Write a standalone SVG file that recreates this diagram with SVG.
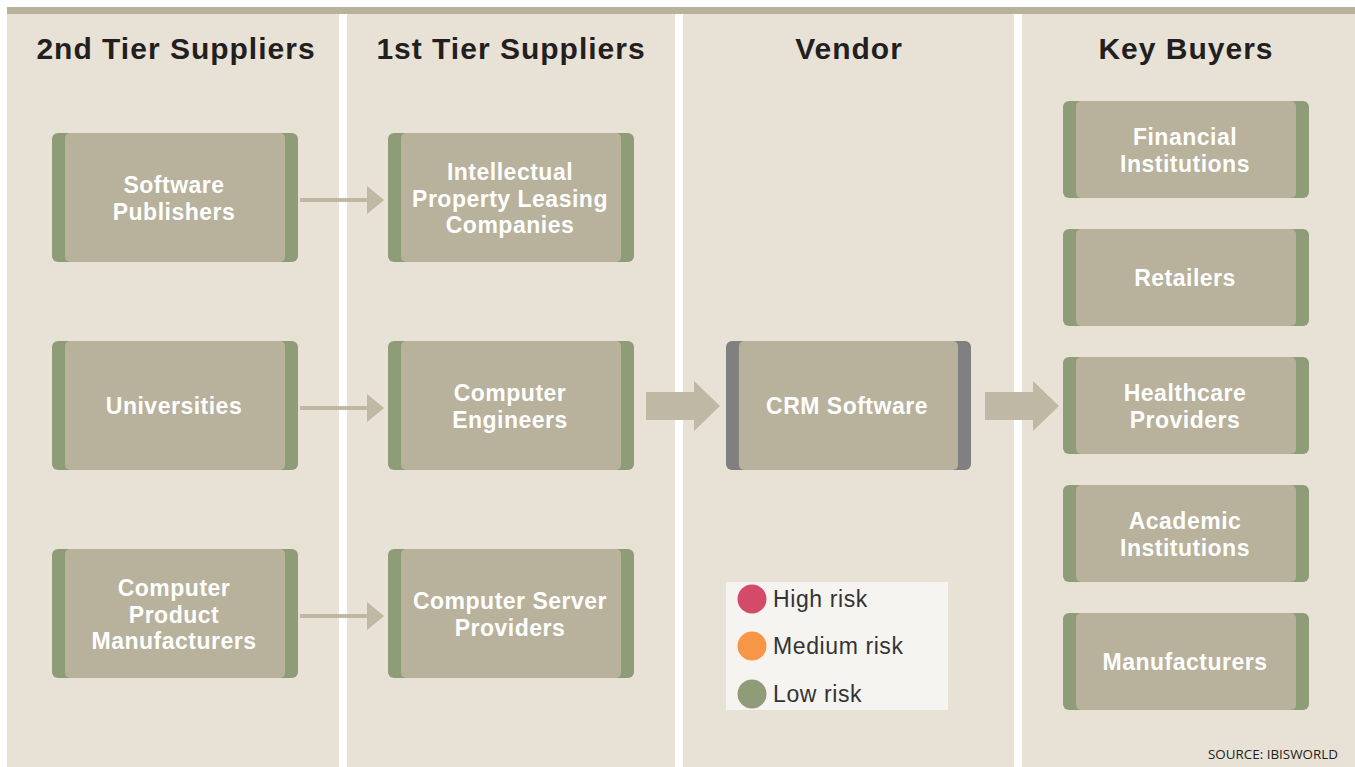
<svg xmlns="http://www.w3.org/2000/svg" width="1355" height="767" viewBox="0 0 1355 767">
<style>
.hdr{font-family:"Liberation Sans",Arial,sans-serif;font-weight:bold;font-size:30px;letter-spacing:1px;fill:#231f20;text-anchor:middle}
.nt{font-family:"Liberation Sans",Arial,sans-serif;font-weight:bold;font-size:23px;letter-spacing:0.5px;fill:#ffffff;text-anchor:middle}
.lg{font-family:"Liberation Sans",Arial,sans-serif;font-size:23px;letter-spacing:0.6px;fill:#333333}
.src{font-family:"Open Sans","Liberation Sans",sans-serif;font-size:13.4px;fill:#231f20}
.g{fill:#8e9c78}
.gr{fill:#808080}
.in{fill:#b8b19b}
.arr{fill:#bfb8a4}
</style>
<rect x="0" y="0" width="1355" height="767" fill="#ffffff"/>
<rect x="7" y="14" width="1348" height="753" fill="#e8e1d5"/>
<rect x="7" y="7" width="1348" height="7" fill="#b8b19c"/>
<rect x="339" y="14" width="8" height="753" fill="#ffffff"/>
<rect x="675" y="14" width="8" height="753" fill="#ffffff"/>
<rect x="1014" y="14" width="8" height="753" fill="#ffffff"/>
<text class="hdr" x="176" y="59">2nd Tier Suppliers</text>
<text class="hdr" x="511" y="59">1st Tier Suppliers</text>
<text class="hdr" x="849" y="59">Vendor</text>
<text class="hdr" x="1186" y="59">Key Buyers</text>
<g id="connectors">
<path class="arr" d="M300,198h67v-12l17,14l-17,14v-12h-67z"/>
<path class="arr" d="M300,406h67v-12l17,14l-17,14v-12h-67z"/>
<path class="arr" d="M300,614h67v-12l17,14l-17,14v-12h-67z"/>
<path class="arr" d="M646,392h48v-11l26,25l-26,25v-11h-48z"/>
<path class="arr" d="M985,392h48v-11l26,25l-26,25v-11h-48z"/>
</g>
<g id="n-software-publishers">
<rect class="g" x="52" y="133" width="246" height="129" rx="6"/><rect class="in" x="65" y="133" width="220" height="129" rx="5"/>
<text class="nt" x="174" y="193">Software</text><text class="nt" x="174" y="220">Publishers</text>
</g>
<g id="n-universities">
<rect class="g" x="52" y="341" width="246" height="129" rx="6"/><rect class="in" x="65" y="341" width="220" height="129" rx="5"/>
<text class="nt" x="174" y="414">Universities</text>
</g>
<g id="n-computer-product-manufacturers">
<rect class="g" x="52" y="549" width="246" height="129" rx="6"/><rect class="in" x="65" y="549" width="220" height="129" rx="5"/>
<text class="nt" x="174" y="596">Computer</text><text class="nt" x="174" y="623">Product</text><text class="nt" x="174" y="649">Manufacturers</text>
</g>
<g id="n-ip-leasing">
<rect class="g" x="388" y="133" width="246" height="129" rx="6"/><rect class="in" x="401" y="133" width="220" height="129" rx="5"/>
<text class="nt" x="510" y="180">Intellectual</text><text class="nt" x="510" y="207">Property Leasing</text><text class="nt" x="510" y="233">Companies</text>
</g>
<g id="n-computer-engineers">
<rect class="g" x="388" y="341" width="246" height="129" rx="6"/><rect class="in" x="401" y="341" width="220" height="129" rx="5"/>
<text class="nt" x="510" y="401">Computer</text><text class="nt" x="510" y="428">Engineers</text>
</g>
<g id="n-computer-server-providers">
<rect class="g" x="388" y="549" width="246" height="129" rx="6"/><rect class="in" x="401" y="549" width="220" height="129" rx="5"/>
<text class="nt" x="510" y="609">Computer Server</text><text class="nt" x="510" y="636">Providers</text>
</g>
<g id="n-crm-software">
<rect class="gr" x="726" y="341" width="245" height="129" rx="6"/><rect class="in" x="739" y="341" width="219" height="129" rx="5"/>
<text class="nt" x="847" y="414">CRM Software</text>
</g>
<g id="n-financial">
<rect class="g" x="1063" y="101" width="246" height="97" rx="6"/><rect class="in" x="1076" y="101" width="220" height="97" rx="5"/>
<text class="nt" x="1185" y="145">Financial</text><text class="nt" x="1185" y="172">Institutions</text>
</g>
<g id="n-retailers">
<rect class="g" x="1063" y="229" width="246" height="97" rx="6"/><rect class="in" x="1076" y="229" width="220" height="97" rx="5"/>
<text class="nt" x="1185" y="286">Retailers</text>
</g>
<g id="n-healthcare">
<rect class="g" x="1063" y="357" width="246" height="97" rx="6"/><rect class="in" x="1076" y="357" width="220" height="97" rx="5"/>
<text class="nt" x="1185" y="401">Healthcare</text><text class="nt" x="1185" y="428">Providers</text>
</g>
<g id="n-academic">
<rect class="g" x="1063" y="485" width="246" height="97" rx="6"/><rect class="in" x="1076" y="485" width="220" height="97" rx="5"/>
<text class="nt" x="1185" y="529">Academic</text><text class="nt" x="1185" y="556">Institutions</text>
</g>
<g id="n-manufacturers">
<rect class="g" x="1063" y="613" width="246" height="97" rx="6"/><rect class="in" x="1076" y="613" width="220" height="97" rx="5"/>
<text class="nt" x="1185" y="670">Manufacturers</text>
</g>
<g id="legend">
<rect x="726" y="582" width="222" height="128" fill="#f6f4f0"/>
<circle cx="752" cy="599" r="14.5" fill="#d34b68"/>
<circle cx="752" cy="646" r="14.5" fill="#f79646"/>
<circle cx="752" cy="694" r="14.5" fill="#8e9c78"/>
<text class="lg" x="773" y="607">High risk</text>
<text class="lg" x="773" y="654">Medium risk</text>
<text class="lg" x="773" y="702">Low risk</text>
</g>
<text class="src" x="1208" y="759">SOURCE: IBISWORLD</text>
</svg>
